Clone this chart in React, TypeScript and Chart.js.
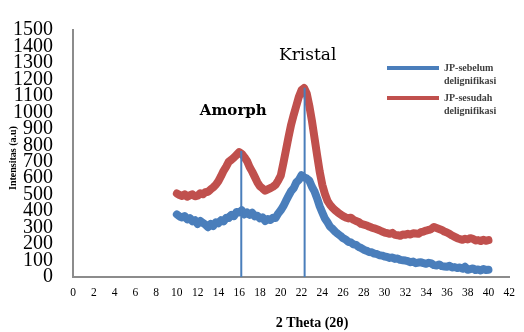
import React, { useEffect, useRef } from 'react';
import { Chart, registerables } from 'chart.js';

Chart.register(...registerables);

// 2θ positions (degrees)
const twoTheta = [
  10, 10.25, 10.5, 10.75, 11, 11.25, 11.5, 11.75, 12, 12.25, 12.5, 12.75, 13, 13.25, 13.5, 13.75,
  14, 14.25, 14.5, 14.75, 15, 15.25, 15.5, 15.75, 16, 16.25, 16.5, 16.75, 17, 17.25, 17.5, 17.75,
  18, 18.25, 18.5, 18.75, 19, 19.25, 19.5, 19.75, 20, 20.25, 20.5, 20.75, 21, 21.25, 21.5, 21.75,
  22, 22.25, 22.5, 22.75, 23, 23.25, 23.5, 23.75, 24, 24.25, 24.5, 24.75, 25, 25.25, 25.5, 25.75,
  26, 26.25, 26.5, 26.75, 27, 27.25, 27.5, 27.75, 28, 28.25, 28.5, 28.75, 29, 29.25, 29.5, 29.75,
  30, 30.25, 30.5, 30.75, 31, 31.25, 31.5, 31.75, 32, 32.25, 32.5, 32.75, 33, 33.25, 33.5, 33.75,
  34, 34.25, 34.5, 34.75, 35, 35.25, 35.5, 35.75, 36, 36.25, 36.5, 36.75, 37, 37.25, 37.5, 37.75,
  38, 38.25, 38.5, 38.75, 39, 39.25, 39.5, 39.75, 40,
];

// JP-sebelum delignifikasi
const sebelum = [
  380, 368, 362, 370, 350, 358, 338, 345, 322, 340, 328, 318, 302, 322, 310, 332,
  326, 345, 338, 360, 358, 378, 370, 395, 392, 405, 380, 392, 378, 390, 368, 372,
  356, 362, 340, 352, 346, 360, 358, 385, 405, 430, 462, 492, 522, 540, 575, 590,
  618, 605, 598, 585, 548, 520, 478, 430, 392, 355, 332, 305, 292, 275, 262, 250,
  236, 228, 214, 210, 198, 195, 182, 176, 166, 160, 152, 150, 142, 140, 132, 130,
  124, 122, 116, 118, 110, 112, 104, 102, 100, 96, 90, 94, 84, 88, 90, 84,
  80, 86, 82, 72, 70, 76, 66, 64, 62, 68, 58, 60, 54, 58, 50, 62,
  44, 48, 52, 42, 46, 40, 48, 42, 44,
];

// JP-sesudah delignifikasi
const sesudah = [
  507, 498, 492, 502, 488, 496, 502, 490, 494, 508, 502, 515, 518, 532, 544, 560,
  582, 612, 645, 670, 700, 712, 726, 742, 758, 748, 728, 705, 668, 640, 608, 575,
  550, 538, 524, 532, 540, 548, 560, 585, 615, 690, 770, 850, 925, 985, 1040, 1095,
  1135, 1148, 1115, 1040, 950, 845, 740, 640, 560, 505, 462, 438, 420, 405, 392, 380,
  370, 362, 356, 360, 348, 340, 334, 322, 318, 314, 306, 300, 296, 290, 284, 276,
  270, 266, 262, 268, 256, 254, 250, 258, 256, 262, 258, 266, 264, 262, 272, 276,
  282, 286, 292, 304, 298, 292, 286, 276, 270, 262, 252, 244, 236, 230, 226, 232,
  228, 236, 232, 222, 224, 218, 226, 220, 224,
];

const seriesNames = ['JP-sebelum delignifikasi', 'JP-sesudah delignifikasi'];
const legendLines = [['JP-sebelum', 'delignifikasi'], ['JP-sesudah', 'delignifikasi']];

// Peak marker lines
const amorphX = 16.2;
const amorphTop = 765;
const kristalX = 22.3;
const kristalTop = 1150;
const peakLabels = ['Amorph', 'Kristal'];

const xMin = 0;
const xMax = 42;
const xStep = 2;
const yMin = 0;
const yMax = 1500;
const yStep = 100;

const xTitle = '2 Theta (2θ)';
const yTitle = 'Intensitas (a.u)';

const BLUE = '#4a7ebb';
const RED = '#c0504d';

export default function App() {
  const ref = useRef<HTMLCanvasElement | null>(null);

  useEffect(() => {
    document.body.style.margin = '0';
    const canvas = ref.current;
    if (!canvas) return;

    const toPoints = (ys: number[]) => twoTheta.map((x, i) => ({ x, y: ys[i] }));

    const overlay = {
      id: 'overlay',
      afterDraw(chart: any) {
        const ctx = chart.ctx;
        const xs = chart.scales.x;
        const ys = chart.scales.y;
        ctx.save();
        // peak labels
        ctx.fillStyle = '#000';
        ctx.textAlign = 'center';
        ctx.textBaseline = 'middle';
        ctx.font = 'bold 15px "DejaVu Serif"';
        ctx.fillText(peakLabels[0], xs.getPixelForValue(amorphX) - 8, ys.getPixelForValue(amorphTop) - 40);
        ctx.font = '17px "DejaVu Serif"';
        ctx.fillText(peakLabels[1], xs.getPixelForValue(kristalX) + 3, ys.getPixelForValue(kristalTop) - 32);

        // legend
        const colors = [BLUE, RED];
        const lx0 = 387;
        const lx1 = 439;
        const ly = [68, 98];
        ctx.font = 'bold 10px "Liberation Serif"';
        ctx.textAlign = 'left';
        for (let i = 0; i < 2; i++) {
          ctx.strokeStyle = colors[i];
          ctx.lineWidth = 4;
          ctx.beginPath();
          ctx.moveTo(lx0, ly[i]);
          ctx.lineTo(lx1, ly[i]);
          ctx.stroke();
          ctx.fillStyle = '#404040';
          ctx.fillText(legendLines[i][0], 444, ly[i]);
          ctx.fillText(legendLines[i][1], 444, ly[i] + 13);
        }

        // axis titles
        ctx.fillStyle = '#000';
        ctx.textAlign = 'center';
        ctx.font = 'bold 14px "Liberation Serif"';
        ctx.fillText(xTitle, 312, 323);
        ctx.translate(13, 158);
        ctx.rotate(-Math.PI / 2);
        ctx.font = 'bold 10px "Liberation Serif"';
        ctx.fillText(yTitle, 0, 0);
        ctx.restore();
      },
    };

    const chart = new Chart(canvas, {
      type: 'scatter',
      data: {
        datasets: [
          {
            label: 'amorph-line',
            data: [{ x: amorphX, y: 0 }, { x: amorphX, y: amorphTop }],
            showLine: true,
            borderColor: BLUE,
            borderWidth: 2,
            pointRadius: 0,
            order: 0,
          },
          {
            label: 'kristal-line',
            data: [{ x: kristalX, y: 0 }, { x: kristalX, y: kristalTop }],
            showLine: true,
            borderColor: BLUE,
            borderWidth: 2,
            pointRadius: 0,
            order: 0,
          },
          {
            label: seriesNames[0],
            data: toPoints(sebelum),
            showLine: true,
            borderColor: BLUE,
            backgroundColor: BLUE,
            borderWidth: 8,
            pointRadius: 0,
            tension: 0,
            borderJoinStyle: 'round',
            borderCapStyle: 'round',
            order: 2,
          },
          {
            label: seriesNames[1],
            data: toPoints(sesudah),
            showLine: true,
            borderColor: RED,
            backgroundColor: RED,
            borderWidth: 8,
            pointRadius: 0,
            tension: 0,
            borderJoinStyle: 'round',
            borderCapStyle: 'round',
            order: 1,
          },
        ],
      },
      options: {
        responsive: false,
        animation: false,
        layout: { padding: { top: 22, right: 11, left: 0, bottom: 0 } },
        plugins: {
          legend: { display: false },
          tooltip: { enabled: false },
        },
        scales: {
          x: {
            type: 'linear',
            min: xMin,
            max: xMax,
            grid: { display: false, drawTicks: false },
            border: { display: true, color: '#8c8c8c', width: 2 },
            ticks: {
              stepSize: xStep,
              autoSkip: false,
              maxRotation: 0,
              padding: 9,
              color: '#000',
              font: { family: '"Liberation Serif"', size: 11.5 },
              callback: (v: any) => String(v),
            },
            afterFit(scale: any) {
              scale.height = 55;
            },
          },
          y: {
            type: 'linear',
            min: yMin,
            max: yMax,
            grid: { display: false, drawTicks: false },
            border: { display: true, color: '#8c8c8c', width: 2 },
            ticks: {
              stepSize: yStep,
              autoSkip: false,
              padding: 20,
              color: '#000',
              font: { family: '"Liberation Serif"', size: 20, lineHeight: 1 },
              callback: (v: any) => String(v),
            },
            afterFit(scale: any) {
              scale.width = 73;
            },
          },
        },
      },
      plugins: [overlay],
    });

    return () => chart.destroy();
  }, []);

  return (
    <div style={{ width: 524, height: 332 }}>
      <canvas ref={ref} width={524} height={332} />
    </div>
  );
}
